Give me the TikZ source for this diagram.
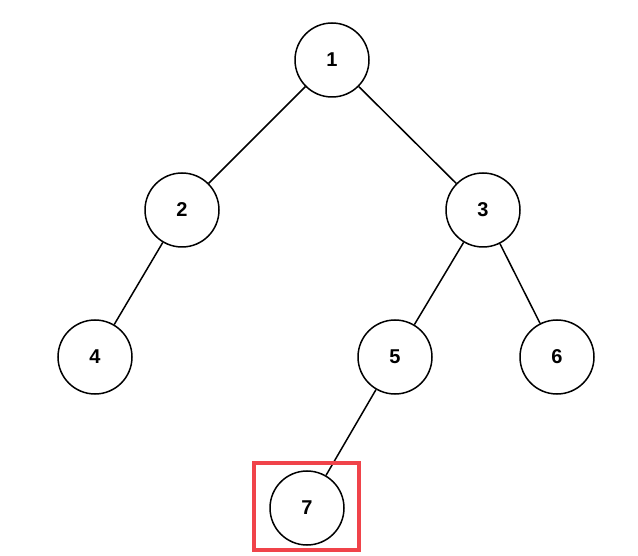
\documentclass[tikz,border=0pt]{standalone}
\usepackage{fontspec}
\setmainfont{Liberation Sans}
\definecolor{MarkRed}{HTML}{F0434A}
\begin{document}
\begin{tikzpicture}[x=1pt,y=-1pt,
  tnode/.style={circle,draw=black,line width=1.5pt,fill=white,minimum size=74pt,
    inner sep=0pt,font=\fontsize{20}{24}\selectfont\bfseries},
  tedge/.style={line width=1.5pt}]
  \useasboundingbox (0,0) rectangle (638,556);

  % nodes
  \node[tnode] (n1) at (332,60) {1};
  \node[tnode] (n2) at (182,210) {2};
  \node[tnode] (n3) at (483,210) {3};
  \node[tnode] (n4) at (95,357) {4};
  \node[tnode] (n5) at (395,357) {5};
  \node[tnode] (n6) at (557,357) {6};
  \node[tnode] (n7) at (307,508) {7};

  % edges
  \draw[tedge] (n1) -- (n2);
  \draw[tedge] (n1) -- (n3);
  \draw[tedge] (n2) -- (n4);
  \draw[tedge] (n3) -- (n5);
  \draw[tedge] (n3) -- (n6);
  \draw[tedge] (n5) -- (n7);

  % highlight
  \draw[MarkRed,line width=4pt] (254,463) rectangle (359,550);
\end{tikzpicture}
\end{document}
